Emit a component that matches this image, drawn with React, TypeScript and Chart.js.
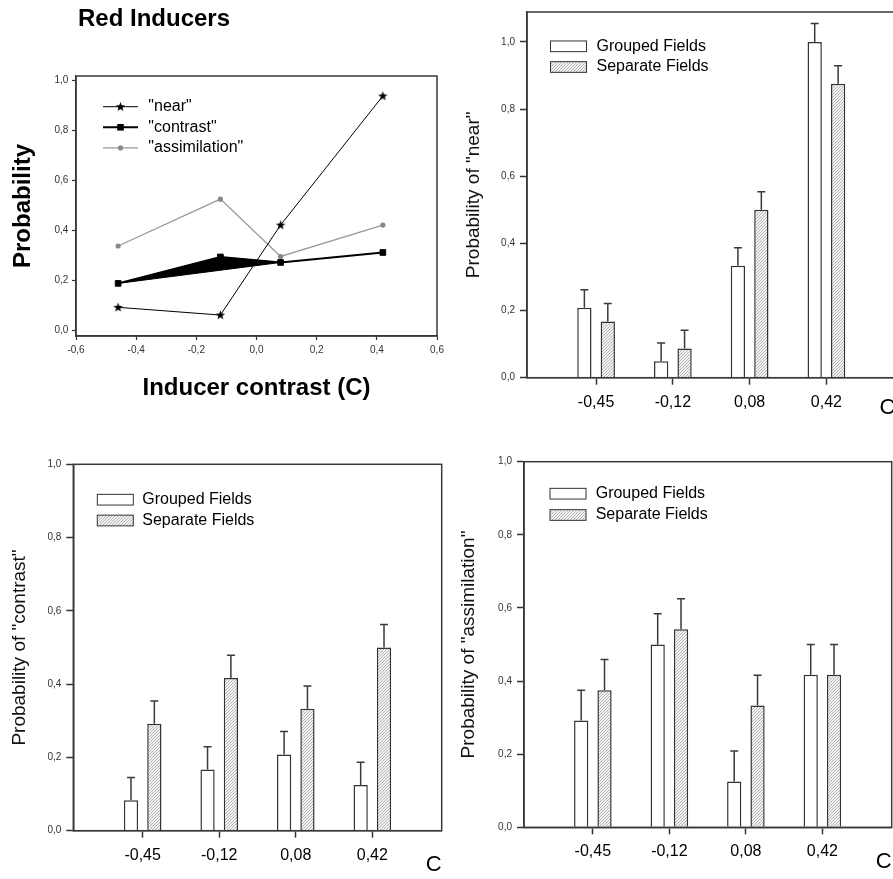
import React, { useEffect, useRef } from 'react';
import { Chart, registerables } from 'chart.js';

Chart.register(...registerables);

const FONT = '"Liberation Sans", Arial, Helvetica, sans-serif';
Chart.defaults.font.family = FONT;
Chart.defaults.color = '#000';

// ---------- Panel 1 (line chart) data ----------
const inducerX = [-0.46, -0.12, 0.08, 0.42];
const nearY = [0.091, 0.06, 0.421, 0.939];
const contrastY = [0.187, 0.293, 0.271, 0.311];
const assimilationY = [0.337, 0.525, 0.295, 0.421];
const lineXTicks = [-0.6, -0.4, -0.2, 0.0, 0.2, 0.4, 0.6];
const probTicks = [0.0, 0.2, 0.4, 0.6, 0.8, 1.0];

// ---------- Bar panels data ----------
const categories = ['-0,45', '-0,12', '0,08', '0,42'];

const nearGrouped = [0.208, 0.049, 0.333, 1.0];
const nearGroupedErr = [0.054, 0.054, 0.054, 0.055];
const nearSeparate = [0.167, 0.087, 0.5, 0.875];
const nearSeparateErr = [0.054, 0.054, 0.054, 0.054];

const contrastGrouped = [0.083, 0.167, 0.208, 0.125];
const contrastGroupedErr = [0.062, 0.062, 0.063, 0.062];
const contrastSeparate = [0.292, 0.417, 0.333, 0.5];
const contrastSeparateErr = [0.062, 0.062, 0.062, 0.063];

const assimGrouped = [0.292, 0.5, 0.125, 0.417];
const assimGroupedErr = [0.083, 0.084, 0.084, 0.083];
const assimSeparate = [0.375, 0.542, 0.333, 0.417];
const assimSeparateErr = [0.084, 0.083, 0.083, 0.083];

const AXIS = '#333';
const fmt = (v: number) => Number(v).toFixed(1).replace('.', ',');

function makeStar(): HTMLCanvasElement {
  const c = document.createElement('canvas');
  c.width = 11;
  c.height = 11;
  const g = c.getContext('2d')!;
  g.fillStyle = '#000';
  g.beginPath();
  for (let i = 0; i < 10; i++) {
    const r = i % 2 === 0 ? 5 : 2.1;
    const a = -Math.PI / 2 + (i * Math.PI) / 5;
    const px = 5.5 + r * Math.cos(a);
    const py = 5.7 + r * Math.sin(a);
    if (i === 0) g.moveTo(px, py);
    else g.lineTo(px, py);
  }
  g.closePath();
  g.fill();
  return c;
}

function makeHatch(ctx: CanvasRenderingContext2D): CanvasPattern {
  const c = document.createElement('canvas');
  c.width = 3;
  c.height = 3;
  const g = c.getContext('2d')!;
  g.fillStyle = '#f3f3f3';
  g.fillRect(0, 0, 3, 3);
  g.fillStyle = '#b4b4b4';
  for (let i = 0; i < 3; i++) g.fillRect(i, 2 - i, 1, 1);
  return ctx.createPattern(c, 'repeat')!;
}

const framePlugin = {
  id: 'frame',
  afterDraw(chart: any) {
    const { ctx, chartArea: a } = chart;
    ctx.save();
    ctx.strokeStyle = '#3a3a3a';
    ctx.lineWidth = 1.5;
    ctx.strokeRect(a.left, a.top, a.right - a.left, a.bottom - a.top);
    ctx.restore();
  },
};

const errorBarPlugin = {
  id: 'errorBars',
  afterDatasetsDraw(chart: any) {
    const { ctx } = chart;
    const yScale = chart.scales.y;
    ctx.save();
    ctx.strokeStyle = '#3a3a3a';
    ctx.lineWidth = 1.5;
    chart.data.datasets.forEach((ds: any, i: number) => {
      if (!ds.errors) return;
      const meta = chart.getDatasetMeta(i);
      meta.data.forEach((bar: any, j: number) => {
        const v = ds.data[j].y;
        const top = yScale.getPixelForValue(v + ds.errors[j]);
        ctx.beginPath();
        ctx.moveTo(bar.x, bar.y);
        ctx.lineTo(bar.x, top);
        ctx.moveTo(bar.x - 4, top);
        ctx.lineTo(bar.x + 4, top);
        ctx.stroke();
      });
    });
    ctx.restore();
  },
};

const barLegendPlugin = {
  id: 'barLegend',
  afterDraw(chart: any, _args: any, o: any) {
    const { ctx } = chart;
    ctx.save();
    chart.data.datasets.forEach((ds: any, i: number) => {
      const cy = i === 0 ? o.y1 : o.y2;
      ctx.fillStyle = ds.backgroundColor;
      ctx.fillRect(o.x, cy - 5.35, 36, 10.7);
      ctx.strokeStyle = '#333';
      ctx.lineWidth = 1;
      ctx.strokeRect(o.x, cy - 5.35, 36, 10.7);
      ctx.fillStyle = '#000';
      ctx.font = '16px ' + FONT;
      ctx.textBaseline = 'middle';
      ctx.textAlign = 'left';
      ctx.fillText(ds.label, o.textX, cy);
    });
    ctx.restore();
  },
};

const lineLegendPlugin = {
  id: 'lineLegend',
  afterDraw(chart: any, _args: any, o: any) {
    const { ctx } = chart;
    ctx.save();
    let row = 0;
    chart.data.datasets.forEach((ds: any) => {
      if (!ds.legendMarker) return;
      const cy = o.y + row * o.step;
      row++;
      ctx.strokeStyle = ds.borderColor;
      ctx.lineWidth = ds.borderWidth;
      ctx.beginPath();
      ctx.moveTo(o.x1, cy);
      ctx.lineTo(o.x2, cy);
      ctx.stroke();
      const mx = (o.x1 + o.x2) / 2;
      if (ds.legendMarker === 'star') {
        const s = ds.pointStyle as HTMLCanvasElement;
        ctx.drawImage(s, mx - s.width / 2, cy - s.height / 2);
      } else if (ds.legendMarker === 'rect') {
        ctx.fillStyle = ds.pointBackgroundColor;
        ctx.fillRect(mx - 3.3, cy - 3.3, 6.6, 6.6);
      } else {
        ctx.fillStyle = ds.pointBackgroundColor;
        ctx.beginPath();
        ctx.arc(mx, cy, 2.6, 0, Math.PI * 2);
        ctx.fill();
      }
      ctx.fillStyle = '#000';
      ctx.font = '16px ' + FONT;
      ctx.textBaseline = 'middle';
      ctx.textAlign = 'left';
      ctx.fillText(ds.label, o.textX, cy);
    });
    ctx.restore();
  },
};

function LinePanel() {
  const ref = useRef<HTMLCanvasElement>(null);
  useEffect(() => {
    const canvas = ref.current!;
    const star = makeStar();
    const pts = (ys: number[]) => inducerX.map((x, i) => ({ x, y: ys[i] }));
    const wedgeOrder = [0, 1, 2, 0];
    const chart = new Chart(canvas, {
      type: 'scatter',
      data: {
        datasets: [
          {
            label: 'wedge',
            data: wedgeOrder.map((i) => ({ x: inducerX[i], y: contrastY[i] })),
            showLine: true,
            fill: 'shape',
            backgroundColor: '#000',
            borderColor: '#000',
            borderWidth: 1,
            pointRadius: 0,
          },
          {
            label: '"near"',
            data: pts(nearY),
            showLine: true,
            borderColor: '#000',
            borderWidth: 1,
            pointStyle: star,
            pointRadius: 5,
            legendMarker: 'star',
          },
          {
            label: '"contrast"',
            data: pts(contrastY),
            showLine: true,
            borderColor: '#000',
            borderWidth: 2,
            pointStyle: 'rect',
            pointRadius: 4,
            pointBorderWidth: 1,
            pointBackgroundColor: '#000',
            pointBorderColor: '#000',
            legendMarker: 'rect',
          },
          {
            label: '"assimilation"',
            data: pts(assimilationY),
            showLine: true,
            borderColor: '#9a9a9a',
            borderWidth: 1.3,
            pointStyle: 'circle',
            pointRadius: 2.6,
            pointBorderWidth: 0,
            pointBackgroundColor: '#888',
            pointBorderColor: '#888',
            legendMarker: 'circle',
          },
        ] as any,
      },
      options: {
        animation: false,
        responsive: false,
        maintainAspectRatio: false,
        events: [],
        layout: { padding: { top: 76, right: 13, left: 0, bottom: 0 } },
        plugins: {
          legend: { display: false },
          tooltip: { enabled: false },
          lineLegend: { x1: 103, x2: 138, y: 106.7, step: 20.6, textX: 148.3 },
        } as any,
        scales: {
          x: {
            type: 'linear',
            min: -0.6,
            max: 0.6,
            afterBuildTicks: (s: any) => {
              s.ticks = lineXTicks.map((v) => ({ value: v }));
            },
            ticks: {
              callback: (v: any) => fmt(v),
              font: { size: 10 },
              color: '#333',
              padding: 4.5,
              autoSkip: false,
              maxRotation: 0,
            },
            grid: { drawOnChartArea: false, tickLength: 4, tickColor: AXIS, tickWidth: 1.2 },
            border: { color: AXIS, width: 1.5 },
            title: {
              display: true,
              text: 'Inducer contrast (C)',
              font: { size: 24, weight: 'bold' },
              color: '#000',
              padding: { top: 0, bottom: 26.9 },
            },
            afterFit: (s: any) => {
              s.height = 94;
            },
          },
          y: {
            type: 'linear',
            min: -0.024,
            max: 1.019,
            afterBuildTicks: (s: any) => {
              s.ticks = probTicks.map((v) => ({ value: v }));
            },
            ticks: { callback: (v: any) => fmt(v), font: { size: 10 }, color: '#333', padding: 3.7 },
            grid: { drawOnChartArea: false, tickLength: 4, tickColor: AXIS, tickWidth: 1.2 },
            border: { color: AXIS, width: 1.5 },
            title: {
              display: true,
              text: 'Probability',
              font: { size: 24, weight: 'bold' },
              color: '#000',
              padding: { top: 8.6, bottom: 0 },
            },
            afterFit: (s: any) => {
              s.width = 76;
            },
          },
        } as any,
      },
      plugins: [framePlugin, lineLegendPlugin],
    } as any);
    return () => chart.destroy();
  }, []);
  return (
    <canvas
      ref={ref}
      width={450}
      height={430}
      style={{ position: 'absolute', left: 0, top: 0, width: 450, height: 430 }}
    />
  );
}

type BarGeom = {
  left: number;
  top: number;
  width: number;
  height: number;
  padTop: number;
  padRight: number;
  yW: number;
  xH: number;
  yMax: number;
  xMin: number;
  xMax: number;
  yTitlePad: number;
  cTitlePad: number;
  legendX: number;
  legendY1: number;
  legendY2: number;
  legendTextX: number;
};

function BarPanel(props: {
  geom: BarGeom;
  yTitle: string;
  grouped: number[];
  groupedErr: number[];
  separate: number[];
  separateErr: number[];
}) {
  const { geom: g, yTitle, grouped, groupedErr, separate, separateErr } = props;
  const ref = useRef<HTMLCanvasElement>(null);
  useEffect(() => {
    const canvas = ref.current!;
    const hatch = makeHatch(canvas.getContext('2d')!);
    const chart = new Chart(canvas, {
      type: 'bar',
      data: {
        datasets: [
          {
            label: 'Grouped Fields',
            data: grouped.map((y, i) => ({ x: i, y })),
            errors: groupedErr,
            backgroundColor: '#ffffff',
            borderColor: '#333',
            borderWidth: 1.5,
            categoryPercentage: 0.61,
            barPercentage: 0.61,
          },
          {
            label: 'Separate Fields',
            data: separate.map((y, i) => ({ x: i, y })),
            errors: separateErr,
            backgroundColor: hatch,
            borderColor: '#333',
            borderWidth: 1.5,
            categoryPercentage: 0.61,
            barPercentage: 0.61,
          },
        ] as any,
      },
      options: {
        animation: false,
        responsive: false,
        maintainAspectRatio: false,
        events: [],
        layout: { padding: { top: g.padTop, right: g.padRight, left: 0, bottom: 0 } },
        plugins: {
          legend: { display: false },
          tooltip: { enabled: false },
          barLegend: { x: g.legendX, y1: g.legendY1, y2: g.legendY2, textX: g.legendTextX },
        } as any,
        scales: {
          x: {
            type: 'linear',
            min: g.xMin,
            max: g.xMax,
            offset: false,
            afterBuildTicks: (s: any) => {
              s.ticks = categories.map((_c, i) => ({ value: i }));
            },
            ticks: {
              callback: (v: any) => categories[v] ?? '',
              font: { size: 16 },
              color: '#000',
              padding: 8,
              autoSkip: false,
              maxRotation: 0,
            },
            grid: { offset: false, drawOnChartArea: false, tickLength: 7, tickColor: AXIS, tickWidth: 1.5 },
            border: { color: '#555', width: 1.5 },
            title: {
              display: true,
              text: 'C',
              align: 'end',
              font: { size: 22 },
              color: '#000',
              padding: { top: 0, bottom: g.cTitlePad },
            },
            afterFit: (s: any) => {
              s.height = g.xH;
            },
          },
          y: {
            type: 'linear',
            min: 0,
            max: g.yMax,
            afterBuildTicks: (s: any) => {
              s.ticks = probTicks.map((v) => ({ value: v }));
            },
            ticks: { callback: (v: any) => fmt(v), font: { size: 10 }, color: '#333', padding: 5 },
            grid: { drawOnChartArea: false, tickLength: 7, tickColor: AXIS, tickWidth: 1.5 },
            border: { color: AXIS, width: 1.5 },
            title: {
              display: true,
              text: yTitle,
              font: { size: 19 },
              color: '#111',
              padding: { top: g.yTitlePad, bottom: 0 },
            },
            afterFit: (s: any) => {
              s.width = g.yW;
            },
          },
        } as any,
      },
      plugins: [errorBarPlugin, framePlugin, barLegendPlugin],
    } as any);
    return () => chart.destroy();
  }, []);
  return (
    <canvas
      ref={ref}
      width={g.width}
      height={g.height}
      style={{ position: 'absolute', left: g.left, top: g.top, width: g.width, height: g.height }}
    />
  );
}

const nearGeom: BarGeom = {
  left: 450, top: 0, width: 450, height: 430,
  padTop: 12, padRight: 4.5, yW: 77, xH: 52.3,
  yMax: 1.089, xMin: -0.9, xMax: 3.9,
  yTitlePad: 12.6, cTitlePad: 8.8,
  legendX: 100.5, legendY1: 46.3, legendY2: 67, legendTextX: 146.5,
};
const contrastGeom: BarGeom = {
  left: 0, top: 430, width: 450, height: 449,
  padTop: 34.3, padRight: 8.3, yW: 73.3, xH: 48.3,
  yMax: 1.0, xMin: -0.906, xMax: 3.906,
  yTitlePad: 8.6, cTitlePad: 0.8,
  legendX: 97.3, legendY1: 69.7, legendY2: 90.5, legendTextX: 142.3,
};
const assimGeom: BarGeom = {
  left: 450, top: 430, width: 443, height: 449,
  padTop: 31.7, padRight: 1.3, yW: 74, xH: 51.7,
  yMax: 1.0, xMin: -0.9, xMax: 3.906,
  yTitlePad: 7.6, cTitlePad: 4.1,
  legendX: 100, legendY1: 63.7, legendY2: 85, legendTextX: 145.7,
};

export default function App() {
  return (
    <div
      style={{
        position: 'fixed',
        left: 0,
        top: 0,
        width: 893,
        height: 879,
        overflow: 'hidden',
        background: '#fff',
        fontFamily: FONT,
      }}
    >
      <LinePanel />
      <div
        style={{
          position: 'absolute',
          left: 78,
          top: 6.4,
          fontSize: 24,
          fontWeight: 'bold',
          lineHeight: '24px',
          whiteSpace: 'nowrap',
          color: '#000',
        }}
      >
        Red Inducers
      </div>
      <BarPanel
        geom={nearGeom}
        yTitle={'Probability of "near"'}
        grouped={nearGrouped}
        groupedErr={nearGroupedErr}
        separate={nearSeparate}
        separateErr={nearSeparateErr}
      />
      <BarPanel
        geom={contrastGeom}
        yTitle={'Probability of "contrast"'}
        grouped={contrastGrouped}
        groupedErr={contrastGroupedErr}
        separate={contrastSeparate}
        separateErr={contrastSeparateErr}
      />
      <BarPanel
        geom={assimGeom}
        yTitle={'Probability of "assimilation"'}
        grouped={assimGrouped}
        groupedErr={assimGroupedErr}
        separate={assimSeparate}
        separateErr={assimSeparateErr}
      />
    </div>
  );
}
